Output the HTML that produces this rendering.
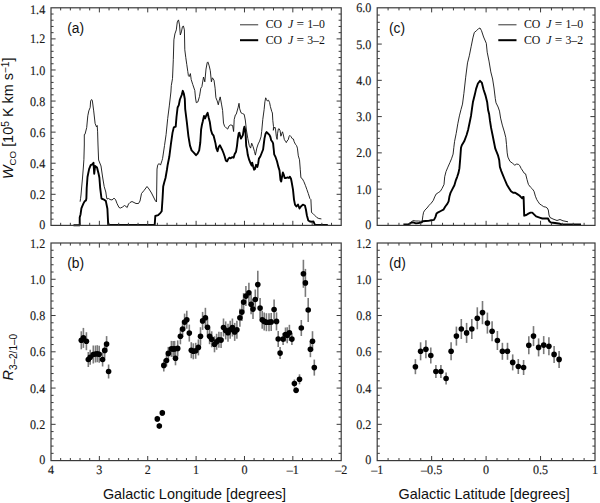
<!DOCTYPE html>
<html><head><meta charset="utf-8"><style>
html,body{margin:0;padding:0;background:#fff;}
body{width:600px;height:503px;overflow:hidden;}
svg{display:block;}
.tl{font-family:"Liberation Serif",serif;font-size:12.1px;fill:#1a1a1a;stroke:#1a1a1a;stroke-width:0.15px;text-rendering:geometricPrecision;}
.lg{font-family:"Liberation Serif",serif;font-size:11.8px;fill:#111;}
.pl{font-family:"Liberation Sans",sans-serif;font-size:13.8px;fill:#111;}
.at{font-family:"Liberation Sans",sans-serif;font-size:14.4px;fill:#111;}
</style></head><body>
<svg width="600" height="503" viewBox="0 0 600 503">
<rect width="600" height="503" fill="#fff"/>
<polyline points="80.1,201.7 80.6,198.3 81,195 81.6,188 82.5,178 83.3,168 83.9,159.6 84.3,145 84.3,134.6 85,134.3 86.7,127.6 87.8,115.8 88.8,110.9 90.2,107.4 90.6,101.1 91.6,99.5 92.3,100.4 93.7,110.9 95.1,123.4 96.5,126.9 97.2,125.5 97.6,131.8 98,145 98.6,160 101,166 102.6,177 104.2,186.6 105.8,192 106.5,197 107,199 108.5,198.5 110,199.5 112,200 114,198.2 115.5,199.5 117,203.5 119,207.5 120.5,208 122.5,207 124.5,205.5 126,206.5 127.2,207.5 128.5,204 130,202.5 132,201.5 134,202.5 136,203.5 138.5,203.5 140,201 141.5,193.5 144,190.5 147,186.5 149,189 151.5,193 153,196 155.5,201 156.5,202 157,169.1 157.7,165.1 159,163.5 160.5,165.1 162.1,160.3 162.6,158.4 164.5,145.6 166.1,134.5 167.7,118.6 169.3,105.9 170.9,92 171.3,85.5 172.5,78.6 173.3,59.7 173.9,39.8 174.9,33.9 176.3,29.9 177.3,21.9 178.5,19.9 179.5,24.9 180.3,35 181.4,31.9 182.4,26.9 183.4,25.9 184.4,29.9 184.8,49.8 185.8,57.7 186.8,64.7 187.8,71.6 188.4,75.6 189.2,76.6 190.4,73.6 191.2,79.6 192.8,84.6 194.8,90.5 195.5,98 196.3,102.7 197.9,101.9 199.5,96.4 200.8,88.2 201.9,86.6 203.5,77 204.8,81.8 206,69.1 207.2,62.7 207.9,61.9 209.2,65.9 210.3,70.7 211.4,81.8 212.4,77.8 214,80.2 215.1,88.2 215.9,97.7 217.2,100.9 218.3,104.8 219.1,100.9 220.2,96.9 221.5,104.1 222.6,110.4 223.5,123.1 224.6,126.3 226.2,127.9 227.7,129.1 228.9,126.1 230.7,124.9 232.6,125.5 233.6,131.5 234.2,119.5 235.4,114.8 236.2,114.4 238.2,107.2 239,103.3 239.7,108.8 241,112.8 242.6,113.6 244.2,114.4 245.3,120 246.4,130 247.8,138.4 249.2,145.3 250.6,148.1 251.7,143.2 253.1,146.7 254.5,151.6 255.4,155.1 256.8,148.1 258.2,143.9 259.6,141.1 261,136.8 261.7,131.4 262.8,119.3 264.1,109.7 264.9,101.8 265.7,97.8 266.5,99.4 267.3,101 268.5,100.2 269.6,102.6 270.4,106.6 271.7,111.3 272.4,113 272.8,120.3 273.5,126.7 273.3,130.3 273.9,128.3 274.9,127.1 275.5,129.1 276.3,136.2 277.1,139.4 277.5,133.8 278.3,129.1 279.1,128.7 280.1,130.7 280.9,136.2 281.7,133.8 282.5,131.8 283.1,133.8 284.3,139.4 285.5,141.4 286.3,142.6 287,141 288.2,139.8 289.2,136.2 289.8,135.4 291,136.6 292.2,138.6 293.4,139 294.2,141.8 295.4,144.2 296.6,145.7 297.4,148.1 298.3,155.8 299.5,159.8 300.3,169.8 300.9,177.7 302.3,178.7 303.9,181.7 305.5,185.7 306.9,189.6 308.3,193.6 309.9,198.6 310.9,199.6 311.5,212.5 312.9,213.5 314.9,215.5 316.8,217.5 318.8,218.5 321.4,218.9" fill="none" stroke="#111" stroke-width="0.9" stroke-linejoin="round" stroke-linecap="butt"/>
<polyline points="73.5,225.2 79.7,225.2 79.7,217.5 80.6,214.2 81.4,208.4 82.2,206.3 83.5,203.4 84.7,201.3 86,200.4 86.4,198.3 86.7,188.2 87.5,177 89.1,169.1 90.7,165.1 92.3,164.3 93.5,162.7 94.2,173.8 95.1,165.9 97,167.5 98.6,173.8 99.4,177.8 100.2,188.2 101.5,198.5 103.4,199.3 105.8,200.9 107.4,208.8 108.2,224.9 154.7,224.9 155.3,216 158.2,215.2 160.5,212.8 161.7,211.2 162.6,197.7 163.2,186.6 164.2,182.6 165.5,178 166.9,170 167.7,164.7 169.3,156.8 170.9,144.1 172.5,132.9 173.8,127.4 175.7,126.6 176.5,117 177.6,107.5 178.8,105.1 179.9,99.5 181.7,95 182.8,90.8 183.8,93.5 184.8,99 185.2,109.1 186.8,121.8 188.4,136.1 190,145.6 191.6,150.4 194,152.8 196,155.2 197.6,153.6 199.2,150.4 200.3,142.5 201.1,129.7 201.9,125 202.7,121.8 204,116 205.1,118.4 206.4,115.2 207.6,112.8 208.6,117.2 209.8,121.9 211,130.3 212.2,133.9 213.6,135.7 214.5,139.2 215.5,143.4 216.3,148.2 217.5,151.2 218.7,147 219.9,145.2 221.1,147.6 222.3,150 223.5,153 224.7,156.5 225.9,160.7 227.1,161.3 228.3,158.9 229.5,157.7 230.7,158.3 232.4,157.1 233.6,157.7 234.6,154.2 236,151.8 237,145.8 237.8,138.6 238.7,133.3 239.4,132.7 240.2,136.3 241,138.6 242,136.8 242.9,135.1 243.8,129.1 244.4,126.7 245,129.1 245.6,133.9 246.2,145.8 247,149.4 247.8,155.1 249.2,159.9 250.6,163.4 251.7,165.5 252.2,162.7 253.1,166.2 254.1,169.7 255,169 256.1,164.8 257.3,166.9 258.2,163.4 258.9,158.6 260.3,156.5 261.7,153 263.1,149.5 263.8,143.9 264.5,138.4 265.6,133.5 266.6,132.1 268,133.5 269.4,134.9 270.4,137 271.2,140.2 272.4,141.8 273.1,143.4 273.5,147.3 273.8,150 274.2,154.4 275.6,157.2 277,161.3 278.4,166.9 279.5,170.4 280.5,180.1 281.2,181.5 281.9,177.4 282.9,172.5 283.7,174.6 284.7,178 286.1,178 287.5,177.4 288.9,178 289.9,176.7 291,178.7 291.6,181.7 293,189.6 294,199.6 295,204.6 296.4,206.5 298,204.6 299.5,208.5 300.9,206.5 302.9,204.6 304.9,205.5 305.9,209.5 306.9,215.5 308.3,220.5 309.9,221.5 311.9,221.8 313.5,221.5 314.3,223.4 314.9,224.9 327.8,224.9" fill="none" stroke="#000" stroke-width="1.9" stroke-linejoin="round" stroke-linecap="butt"/>
<polyline points="410.3,222.7 413.1,220.6 415.9,221 418.7,221 420.8,221.3 422.2,221 422.9,215.7 423.6,212.2 424.9,210.1 427,208 429.1,205.3 431.2,203.2 433.3,200.4 434.7,196.9 436.1,194.1 438.2,192.7 440.3,191.3 442.1,188.4 444,184.5 444.7,176.8 446,171.6 447.9,167.1 449.9,162.6 451.5,158.8 453.1,154.1 453.8,147.7 454.6,141.3 456.2,133.4 457.8,123.8 459.4,115.9 461,109.5 462.5,104.1 463.9,93.3 465.7,77.2 467.5,62.9 469.3,55.8 471.1,46.8 472.9,37.9 474.3,32.5 476.5,30.7 478.6,28.6 480,28 481.5,30.7 483.6,37 486.3,43.3 487.2,52.2 489,61.1 490.8,71.9 492.6,79 494,88 495.3,98.7 496,102.8 498.1,107 499.5,111.1 500.6,118.1 502.3,125.1 504.4,132 505.8,137.6 506.5,144.6 507.2,152.9 507.9,157.1 509.9,161.3 512.7,163.4 514.8,165.2 516.5,164.1 518.3,164.3 519.7,165.5 521.1,168.4 522.9,171.1 524.2,173.2 525.6,173.9 527,179.5 528.4,184.4 530.5,187.2 532.6,189.2 534,191.3 535.4,196.2 536.8,199.7 538.2,201.8 539.6,203.9 541.7,205.3 543.7,206.7 545.8,207.1 547.2,208 548.3,210 549,215 550,217.5 553,219 557,220.5 560,219.5 563,220.8 568,221.8" fill="none" stroke="#111" stroke-width="0.9" stroke-linejoin="round" stroke-linecap="butt"/>
<polyline points="403.4,224.5 408.9,224.1 411,222.7 413.1,222.4 415.9,223.4 418.7,223 421.5,222.4 422.9,221.3 425.6,221 428.4,220.9 431.2,220.3 434,219.9 435.4,217.1 436.5,213.6 438.2,212.3 440.8,211 443.4,209.7 445.3,206.5 447.3,203.9 448.6,201.3 449.5,196.2 450.5,192.9 452.4,189.1 454.4,185.2 455.7,180.7 457.2,176.8 458.5,172.9 459.4,168.4 460.2,158.8 461,147.7 461.8,145.3 464.2,141.3 466.6,135 468.2,129.4 469.7,122.3 471,115.9 472.1,107.9 472.9,102.3 474.7,95.1 476.1,88.9 477.9,83.5 480,80.8 481.8,82.6 483.6,89.8 485.4,95.1 487.2,102.3 488.1,110 489.1,113.9 490,120.9 491.1,127.9 492.5,134.8 493.9,141.8 495.3,148.7 496.7,152.2 498.1,155.7 499.2,160 499.9,167 501.3,171.1 502.7,174.6 504.7,179.5 506.8,184.4 508.9,187.9 511,191.3 513.1,192.7 515.2,192.7 517.3,194.1 519.4,195.5 521.5,197.6 522.2,198.3 522.9,196.9 523.6,196.9 524.2,215.7 526.3,215 528.4,213.6 530.5,212.6 532.3,212.6 534,214.3 536.1,216.4 538.2,217.1 540.3,217.8 542.4,218.5 548,218.5 549.5,221.5 551,222.5 555,223 560,223.8 562,224.5 581,224.5" fill="none" stroke="#000" stroke-width="1.9" stroke-linejoin="round" stroke-linecap="butt"/>
<path d="M81.3 331.3V349.3" stroke="#7a7a7a" stroke-width="1.6"/>
<path d="M83.4 327.9V347.9" stroke="#7a7a7a" stroke-width="1.6"/>
<path d="M86.4 332.2V350.2" stroke="#7a7a7a" stroke-width="1.6"/>
<path d="M88.3 352V367" stroke="#7a7a7a" stroke-width="1.6"/>
<path d="M90.2 349.8V364.8" stroke="#7a7a7a" stroke-width="1.6"/>
<path d="M93.3 345.5V363.5" stroke="#7a7a7a" stroke-width="1.6"/>
<path d="M95.5 345.5V362.5" stroke="#7a7a7a" stroke-width="1.6"/>
<path d="M97.3 345.2V362.2" stroke="#7a7a7a" stroke-width="1.6"/>
<path d="M99.2 345.8V362.8" stroke="#7a7a7a" stroke-width="1.6"/>
<path d="M102.6 352.5V366.5" stroke="#7a7a7a" stroke-width="1.6"/>
<path d="M104.7 342.9V357.9" stroke="#7a7a7a" stroke-width="1.6"/>
<path d="M106.6 336.1V352.1" stroke="#7a7a7a" stroke-width="1.6"/>
<path d="M108.6 364.5V378.5" stroke="#7a7a7a" stroke-width="1.6"/>
<path d="M157.3 415.9V421.9" stroke="#7a7a7a" stroke-width="1.6"/>
<path d="M159.3 423V429" stroke="#7a7a7a" stroke-width="1.6"/>
<path d="M162.3 409.9V415.9" stroke="#7a7a7a" stroke-width="1.6"/>
<path d="M163.8 359.4V371.4" stroke="#7a7a7a" stroke-width="1.6"/>
<path d="M166.5 354.5V366.5" stroke="#7a7a7a" stroke-width="1.6"/>
<path d="M168.3 346.9V359.9" stroke="#7a7a7a" stroke-width="1.6"/>
<path d="M171.4 340.9V356.9" stroke="#7a7a7a" stroke-width="1.6"/>
<path d="M173.2 341V357" stroke="#7a7a7a" stroke-width="1.6"/>
<path d="M174.6 340.9V356.9" stroke="#7a7a7a" stroke-width="1.6"/>
<path d="M175.5 351.3V365.3" stroke="#7a7a7a" stroke-width="1.6"/>
<path d="M177.7 340.4V356.4" stroke="#7a7a7a" stroke-width="1.6"/>
<path d="M180.4 328.3V344.3" stroke="#7a7a7a" stroke-width="1.6"/>
<path d="M182.6 321.1V337.1" stroke="#7a7a7a" stroke-width="1.6"/>
<path d="M184.6 313.6V330.6" stroke="#7a7a7a" stroke-width="1.6"/>
<path d="M186.8 310.7V328.7" stroke="#7a7a7a" stroke-width="1.6"/>
<path d="M189.3 324.6V341.6" stroke="#7a7a7a" stroke-width="1.6"/>
<path d="M191.3 342.2V358.2" stroke="#7a7a7a" stroke-width="1.6"/>
<path d="M193.3 343.3V359.3" stroke="#7a7a7a" stroke-width="1.6"/>
<path d="M195.7 342.8V358.8" stroke="#7a7a7a" stroke-width="1.6"/>
<path d="M198.4 339.4V355.4" stroke="#7a7a7a" stroke-width="1.6"/>
<path d="M200.5 327.2V345.2" stroke="#7a7a7a" stroke-width="1.6"/>
<path d="M202.6 311.9V329.9" stroke="#7a7a7a" stroke-width="1.6"/>
<path d="M205.4 307.8V327.8" stroke="#7a7a7a" stroke-width="1.6"/>
<path d="M207.5 318.2V336.2" stroke="#7a7a7a" stroke-width="1.6"/>
<path d="M209.6 328.2V344.2" stroke="#7a7a7a" stroke-width="1.6"/>
<path d="M211.7 331.3V347.3" stroke="#7a7a7a" stroke-width="1.6"/>
<path d="M214.5 336.3V352.3" stroke="#7a7a7a" stroke-width="1.6"/>
<path d="M216.6 333.8V349.8" stroke="#7a7a7a" stroke-width="1.6"/>
<path d="M218.9 331.7V347.7" stroke="#7a7a7a" stroke-width="1.6"/>
<path d="M221.1 332.1V348.1" stroke="#7a7a7a" stroke-width="1.6"/>
<path d="M223.5 318.5V336.5" stroke="#7a7a7a" stroke-width="1.6"/>
<path d="M225.7 321.4V339.4" stroke="#7a7a7a" stroke-width="1.6"/>
<path d="M228 323.7V341.7" stroke="#7a7a7a" stroke-width="1.6"/>
<path d="M230.2 320.7V338.7" stroke="#7a7a7a" stroke-width="1.6"/>
<path d="M232.4 318.5V336.5" stroke="#7a7a7a" stroke-width="1.6"/>
<path d="M234.7 322.9V340.9" stroke="#7a7a7a" stroke-width="1.6"/>
<path d="M236.9 320.7V338.7" stroke="#7a7a7a" stroke-width="1.6"/>
<path d="M239.9 308.8V326.8" stroke="#7a7a7a" stroke-width="1.6"/>
<path d="M241.9 303.1V321.1" stroke="#7a7a7a" stroke-width="1.6"/>
<path d="M243.6 293.1V311.1" stroke="#7a7a7a" stroke-width="1.6"/>
<path d="M245.9 286.1V306.1" stroke="#7a7a7a" stroke-width="1.6"/>
<path d="M248.9 282.7V302.7" stroke="#7a7a7a" stroke-width="1.6"/>
<path d="M251.1 294.3V314.3" stroke="#7a7a7a" stroke-width="1.6"/>
<path d="M253 299.1V319.1" stroke="#7a7a7a" stroke-width="1.6"/>
<path d="M255.3 289.5V309.5" stroke="#7a7a7a" stroke-width="1.6"/>
<path d="M257.8 270.8V298.4" stroke="#7a7a7a" stroke-width="1.6"/>
<path d="M260.1 298.1V318.1" stroke="#7a7a7a" stroke-width="1.6"/>
<path d="M262.2 310.8V328.8" stroke="#7a7a7a" stroke-width="1.6"/>
<path d="M264.2 312.4V330.4" stroke="#7a7a7a" stroke-width="1.6"/>
<path d="M266.4 313.2V331.2" stroke="#7a7a7a" stroke-width="1.6"/>
<path d="M269 313.2V331.2" stroke="#7a7a7a" stroke-width="1.6"/>
<path d="M271.2 312.9V330.9" stroke="#7a7a7a" stroke-width="1.6"/>
<path d="M274.1 299.5V319.5" stroke="#7a7a7a" stroke-width="1.6"/>
<path d="M276.5 312.4V330.4" stroke="#7a7a7a" stroke-width="1.6"/>
<path d="M278.2 331V347" stroke="#7a7a7a" stroke-width="1.6"/>
<path d="M280.1 347.1V359.1" stroke="#7a7a7a" stroke-width="1.6"/>
<path d="M283.1 333.1V345.1" stroke="#7a7a7a" stroke-width="1.6"/>
<path d="M285.5 327.5V341.5" stroke="#7a7a7a" stroke-width="1.6"/>
<path d="M287.2 327.3V343.3" stroke="#7a7a7a" stroke-width="1.6"/>
<path d="M289.4 324.8V340.8" stroke="#7a7a7a" stroke-width="1.6"/>
<path d="M291.9 333.1V345.1" stroke="#7a7a7a" stroke-width="1.6"/>
<path d="M294.4 379.5V387.5" stroke="#7a7a7a" stroke-width="1.6"/>
<path d="M296.1 387.2V393.2" stroke="#7a7a7a" stroke-width="1.6"/>
<path d="M299.5 374.3V384.3" stroke="#7a7a7a" stroke-width="1.6"/>
<path d="M301.3 320V336" stroke="#7a7a7a" stroke-width="1.6"/>
<path d="M303.4 259.8V287.8" stroke="#7a7a7a" stroke-width="1.6"/>
<path d="M305.4 268.9V296.9" stroke="#7a7a7a" stroke-width="1.6"/>
<path d="M308.2 298V322" stroke="#7a7a7a" stroke-width="1.6"/>
<path d="M310.4 341.2V357.2" stroke="#7a7a7a" stroke-width="1.6"/>
<path d="M312.5 331.2V351.2" stroke="#7a7a7a" stroke-width="1.6"/>
<path d="M314.3 359.6V375.6" stroke="#7a7a7a" stroke-width="1.6"/>
<circle cx="81.3" cy="340.3" r="2.8" fill="#000"/>
<circle cx="83.4" cy="337.9" r="2.8" fill="#000"/>
<circle cx="86.4" cy="341.2" r="2.8" fill="#000"/>
<circle cx="88.3" cy="359.5" r="2.8" fill="#000"/>
<circle cx="90.2" cy="357.3" r="2.8" fill="#000"/>
<circle cx="93.3" cy="354.5" r="2.8" fill="#000"/>
<circle cx="95.5" cy="354" r="2.8" fill="#000"/>
<circle cx="97.3" cy="353.7" r="2.8" fill="#000"/>
<circle cx="99.2" cy="354.3" r="2.8" fill="#000"/>
<circle cx="102.6" cy="359.5" r="2.8" fill="#000"/>
<circle cx="104.7" cy="350.4" r="2.8" fill="#000"/>
<circle cx="106.6" cy="344.1" r="2.8" fill="#000"/>
<circle cx="108.6" cy="371.5" r="2.8" fill="#000"/>
<circle cx="157.3" cy="418.9" r="2.8" fill="#000"/>
<circle cx="159.3" cy="426" r="2.8" fill="#000"/>
<circle cx="162.3" cy="412.9" r="2.8" fill="#000"/>
<circle cx="163.8" cy="365.4" r="2.8" fill="#000"/>
<circle cx="166.5" cy="360.5" r="2.8" fill="#000"/>
<circle cx="168.3" cy="353.4" r="2.8" fill="#000"/>
<circle cx="171.4" cy="348.9" r="2.8" fill="#000"/>
<circle cx="173.2" cy="349" r="2.8" fill="#000"/>
<circle cx="174.6" cy="348.9" r="2.8" fill="#000"/>
<circle cx="175.5" cy="358.3" r="2.8" fill="#000"/>
<circle cx="177.7" cy="348.4" r="2.8" fill="#000"/>
<circle cx="180.4" cy="336.3" r="2.8" fill="#000"/>
<circle cx="182.6" cy="329.1" r="2.8" fill="#000"/>
<circle cx="184.6" cy="322.1" r="2.8" fill="#000"/>
<circle cx="186.8" cy="319.7" r="2.8" fill="#000"/>
<circle cx="189.3" cy="333.1" r="2.8" fill="#000"/>
<circle cx="191.3" cy="350.2" r="2.8" fill="#000"/>
<circle cx="193.3" cy="351.3" r="2.8" fill="#000"/>
<circle cx="195.7" cy="350.8" r="2.8" fill="#000"/>
<circle cx="198.4" cy="347.4" r="2.8" fill="#000"/>
<circle cx="200.5" cy="336.2" r="2.8" fill="#000"/>
<circle cx="202.6" cy="320.9" r="2.8" fill="#000"/>
<circle cx="205.4" cy="317.8" r="2.8" fill="#000"/>
<circle cx="207.5" cy="327.2" r="2.8" fill="#000"/>
<circle cx="209.6" cy="336.2" r="2.8" fill="#000"/>
<circle cx="211.7" cy="339.3" r="2.8" fill="#000"/>
<circle cx="214.5" cy="344.3" r="2.8" fill="#000"/>
<circle cx="216.6" cy="341.8" r="2.8" fill="#000"/>
<circle cx="218.9" cy="339.7" r="2.8" fill="#000"/>
<circle cx="221.1" cy="340.1" r="2.8" fill="#000"/>
<circle cx="223.5" cy="327.5" r="2.8" fill="#000"/>
<circle cx="225.7" cy="330.4" r="2.8" fill="#000"/>
<circle cx="228" cy="332.7" r="2.8" fill="#000"/>
<circle cx="230.2" cy="329.7" r="2.8" fill="#000"/>
<circle cx="232.4" cy="327.5" r="2.8" fill="#000"/>
<circle cx="234.7" cy="331.9" r="2.8" fill="#000"/>
<circle cx="236.9" cy="329.7" r="2.8" fill="#000"/>
<circle cx="239.9" cy="317.8" r="2.8" fill="#000"/>
<circle cx="241.9" cy="312.1" r="2.8" fill="#000"/>
<circle cx="243.6" cy="302.1" r="2.8" fill="#000"/>
<circle cx="245.9" cy="296.1" r="2.8" fill="#000"/>
<circle cx="248.9" cy="292.7" r="2.8" fill="#000"/>
<circle cx="251.1" cy="304.3" r="2.8" fill="#000"/>
<circle cx="253" cy="309.1" r="2.8" fill="#000"/>
<circle cx="255.3" cy="299.5" r="2.8" fill="#000"/>
<circle cx="257.8" cy="284.6" r="2.8" fill="#000"/>
<circle cx="260.1" cy="308.1" r="2.8" fill="#000"/>
<circle cx="262.2" cy="319.8" r="2.8" fill="#000"/>
<circle cx="264.2" cy="321.4" r="2.8" fill="#000"/>
<circle cx="266.4" cy="322.2" r="2.8" fill="#000"/>
<circle cx="269" cy="322.2" r="2.8" fill="#000"/>
<circle cx="271.2" cy="321.9" r="2.8" fill="#000"/>
<circle cx="274.1" cy="309.5" r="2.8" fill="#000"/>
<circle cx="276.5" cy="321.4" r="2.8" fill="#000"/>
<circle cx="278.2" cy="339" r="2.8" fill="#000"/>
<circle cx="280.1" cy="353.1" r="2.8" fill="#000"/>
<circle cx="283.1" cy="339.1" r="2.8" fill="#000"/>
<circle cx="285.5" cy="334.5" r="2.8" fill="#000"/>
<circle cx="287.2" cy="335.3" r="2.8" fill="#000"/>
<circle cx="289.4" cy="332.8" r="2.8" fill="#000"/>
<circle cx="291.9" cy="339.1" r="2.8" fill="#000"/>
<circle cx="294.4" cy="383.5" r="2.8" fill="#000"/>
<circle cx="296.1" cy="390.2" r="2.8" fill="#000"/>
<circle cx="299.5" cy="379.3" r="2.8" fill="#000"/>
<circle cx="301.3" cy="328" r="2.8" fill="#000"/>
<circle cx="303.4" cy="273.8" r="2.8" fill="#000"/>
<circle cx="305.4" cy="282.9" r="2.8" fill="#000"/>
<circle cx="308.2" cy="310" r="2.8" fill="#000"/>
<circle cx="310.4" cy="349.2" r="2.8" fill="#000"/>
<circle cx="312.5" cy="341.2" r="2.8" fill="#000"/>
<circle cx="314.3" cy="367.6" r="2.8" fill="#000"/>
<path d="M415.4 359.2V374.2" stroke="#7a7a7a" stroke-width="1.6"/>
<path d="M420.6 342.3V360.3" stroke="#7a7a7a" stroke-width="1.6"/>
<path d="M425.9 340.2V358.2" stroke="#7a7a7a" stroke-width="1.6"/>
<path d="M430.8 347.5V363.5" stroke="#7a7a7a" stroke-width="1.6"/>
<path d="M435.9 365V378" stroke="#7a7a7a" stroke-width="1.6"/>
<path d="M440.9 365V378" stroke="#7a7a7a" stroke-width="1.6"/>
<path d="M446.1 372.5V384.5" stroke="#7a7a7a" stroke-width="1.6"/>
<path d="M451.1 342.3V360.3" stroke="#7a7a7a" stroke-width="1.6"/>
<path d="M456.4 326.6V345.6" stroke="#7a7a7a" stroke-width="1.6"/>
<path d="M461.3 319V339" stroke="#7a7a7a" stroke-width="1.6"/>
<path d="M466.6 322.9V342.9" stroke="#7a7a7a" stroke-width="1.6"/>
<path d="M471.8 319V339" stroke="#7a7a7a" stroke-width="1.6"/>
<path d="M477.3 307.3V329.3" stroke="#7a7a7a" stroke-width="1.6"/>
<path d="M482.5 301V324.2" stroke="#7a7a7a" stroke-width="1.6"/>
<path d="M487.4 312.6V333.6" stroke="#7a7a7a" stroke-width="1.6"/>
<path d="M492.1 321.3V341.3" stroke="#7a7a7a" stroke-width="1.6"/>
<path d="M497.4 331V350" stroke="#7a7a7a" stroke-width="1.6"/>
<path d="M502.4 342.8V359.8" stroke="#7a7a7a" stroke-width="1.6"/>
<path d="M507.5 342.8V359.8" stroke="#7a7a7a" stroke-width="1.6"/>
<path d="M512.7 354.4V370.4" stroke="#7a7a7a" stroke-width="1.6"/>
<path d="M518.3 359V374" stroke="#7a7a7a" stroke-width="1.6"/>
<path d="M523.6 360V375" stroke="#7a7a7a" stroke-width="1.6"/>
<path d="M528.8 336.3V354.3" stroke="#7a7a7a" stroke-width="1.6"/>
<path d="M533.5 326.1V346.1" stroke="#7a7a7a" stroke-width="1.6"/>
<path d="M538.6 338.4V356.4" stroke="#7a7a7a" stroke-width="1.6"/>
<path d="M543.7 336.1V354.1" stroke="#7a7a7a" stroke-width="1.6"/>
<path d="M548.9 337.3V355.3" stroke="#7a7a7a" stroke-width="1.6"/>
<path d="M554.1 345.9V362.9" stroke="#7a7a7a" stroke-width="1.6"/>
<path d="M559.1 350.9V367.9" stroke="#7a7a7a" stroke-width="1.6"/>
<circle cx="415.4" cy="366.7" r="2.8" fill="#000"/>
<circle cx="420.6" cy="351.3" r="2.8" fill="#000"/>
<circle cx="425.9" cy="349.2" r="2.8" fill="#000"/>
<circle cx="430.8" cy="355.5" r="2.8" fill="#000"/>
<circle cx="435.9" cy="371.5" r="2.8" fill="#000"/>
<circle cx="440.9" cy="371.5" r="2.8" fill="#000"/>
<circle cx="446.1" cy="378.5" r="2.8" fill="#000"/>
<circle cx="451.1" cy="351.3" r="2.8" fill="#000"/>
<circle cx="456.4" cy="336.1" r="2.8" fill="#000"/>
<circle cx="461.3" cy="329" r="2.8" fill="#000"/>
<circle cx="466.6" cy="332.9" r="2.8" fill="#000"/>
<circle cx="471.8" cy="329" r="2.8" fill="#000"/>
<circle cx="477.3" cy="318.3" r="2.8" fill="#000"/>
<circle cx="482.5" cy="312.6" r="2.8" fill="#000"/>
<circle cx="487.4" cy="323.1" r="2.8" fill="#000"/>
<circle cx="492.1" cy="331.3" r="2.8" fill="#000"/>
<circle cx="497.4" cy="340.5" r="2.8" fill="#000"/>
<circle cx="502.4" cy="351.3" r="2.8" fill="#000"/>
<circle cx="507.5" cy="351.3" r="2.8" fill="#000"/>
<circle cx="512.7" cy="362.4" r="2.8" fill="#000"/>
<circle cx="518.3" cy="366.5" r="2.8" fill="#000"/>
<circle cx="523.6" cy="367.5" r="2.8" fill="#000"/>
<circle cx="528.8" cy="345.3" r="2.8" fill="#000"/>
<circle cx="533.5" cy="336.1" r="2.8" fill="#000"/>
<circle cx="538.6" cy="347.4" r="2.8" fill="#000"/>
<circle cx="543.7" cy="345.1" r="2.8" fill="#000"/>
<circle cx="548.9" cy="346.3" r="2.8" fill="#000"/>
<circle cx="554.1" cy="354.4" r="2.8" fill="#000"/>
<circle cx="559.1" cy="359.4" r="2.8" fill="#000"/>
<rect x="51" y="7.8" width="290.2" height="217.6" fill="none" stroke="#3a3a3a" stroke-width="1.2"/>
<rect x="51" y="243" width="290.2" height="217.6" fill="none" stroke="#3a3a3a" stroke-width="1.2"/>
<rect x="377.2" y="7.8" width="217.8" height="217.6" fill="none" stroke="#3a3a3a" stroke-width="1.2"/>
<rect x="377.2" y="243" width="217.8" height="217.6" fill="none" stroke="#3a3a3a" stroke-width="1.2"/>
<path d="M60.67 225.4v-2.6M60.67 7.8v2.6M70.35 225.4v-2.6M70.35 7.8v2.6M80.02 225.4v-2.6M80.02 7.8v2.6M89.69 225.4v-2.6M89.69 7.8v2.6M99.37 225.4v-4.6M99.37 7.8v4.6M109.04 225.4v-2.6M109.04 7.8v2.6M118.71 225.4v-2.6M118.71 7.8v2.6M128.39 225.4v-2.6M128.39 7.8v2.6M138.06 225.4v-2.6M138.06 7.8v2.6M147.73 225.4v-4.6M147.73 7.8v4.6M157.41 225.4v-2.6M157.41 7.8v2.6M167.08 225.4v-2.6M167.08 7.8v2.6M176.75 225.4v-2.6M176.75 7.8v2.6M186.43 225.4v-2.6M186.43 7.8v2.6M196.1 225.4v-4.6M196.1 7.8v4.6M205.77 225.4v-2.6M205.77 7.8v2.6M215.45 225.4v-2.6M215.45 7.8v2.6M225.12 225.4v-2.6M225.12 7.8v2.6M234.79 225.4v-2.6M234.79 7.8v2.6M244.47 225.4v-4.6M244.47 7.8v4.6M254.14 225.4v-2.6M254.14 7.8v2.6M263.81 225.4v-2.6M263.81 7.8v2.6M273.49 225.4v-2.6M273.49 7.8v2.6M283.16 225.4v-2.6M283.16 7.8v2.6M292.83 225.4v-4.6M292.83 7.8v4.6M302.51 225.4v-2.6M302.51 7.8v2.6M312.18 225.4v-2.6M312.18 7.8v2.6M321.85 225.4v-2.6M321.85 7.8v2.6M331.53 225.4v-2.6M331.53 7.8v2.6" stroke="#3a3a3a" stroke-width="1.0" fill="none"/>
<path d="M60.67 460.6v-2.6M60.67 243v2.6M70.35 460.6v-2.6M70.35 243v2.6M80.02 460.6v-2.6M80.02 243v2.6M89.69 460.6v-2.6M89.69 243v2.6M99.37 460.6v-4.6M99.37 243v4.6M109.04 460.6v-2.6M109.04 243v2.6M118.71 460.6v-2.6M118.71 243v2.6M128.39 460.6v-2.6M128.39 243v2.6M138.06 460.6v-2.6M138.06 243v2.6M147.73 460.6v-4.6M147.73 243v4.6M157.41 460.6v-2.6M157.41 243v2.6M167.08 460.6v-2.6M167.08 243v2.6M176.75 460.6v-2.6M176.75 243v2.6M186.43 460.6v-2.6M186.43 243v2.6M196.1 460.6v-4.6M196.1 243v4.6M205.77 460.6v-2.6M205.77 243v2.6M215.45 460.6v-2.6M215.45 243v2.6M225.12 460.6v-2.6M225.12 243v2.6M234.79 460.6v-2.6M234.79 243v2.6M244.47 460.6v-4.6M244.47 243v4.6M254.14 460.6v-2.6M254.14 243v2.6M263.81 460.6v-2.6M263.81 243v2.6M273.49 460.6v-2.6M273.49 243v2.6M283.16 460.6v-2.6M283.16 243v2.6M292.83 460.6v-4.6M292.83 243v4.6M302.51 460.6v-2.6M302.51 243v2.6M312.18 460.6v-2.6M312.18 243v2.6M321.85 460.6v-2.6M321.85 243v2.6M331.53 460.6v-2.6M331.53 243v2.6" stroke="#3a3a3a" stroke-width="1.0" fill="none"/>
<path d="M388.09 225.4v-2.6M388.09 7.8v2.6M398.98 225.4v-2.6M398.98 7.8v2.6M409.87 225.4v-2.6M409.87 7.8v2.6M420.76 225.4v-2.6M420.76 7.8v2.6M431.65 225.4v-4.6M431.65 7.8v4.6M442.54 225.4v-2.6M442.54 7.8v2.6M453.43 225.4v-2.6M453.43 7.8v2.6M464.32 225.4v-2.6M464.32 7.8v2.6M475.21 225.4v-2.6M475.21 7.8v2.6M486.1 225.4v-4.6M486.1 7.8v4.6M496.99 225.4v-2.6M496.99 7.8v2.6M507.88 225.4v-2.6M507.88 7.8v2.6M518.77 225.4v-2.6M518.77 7.8v2.6M529.66 225.4v-2.6M529.66 7.8v2.6M540.55 225.4v-4.6M540.55 7.8v4.6M551.44 225.4v-2.6M551.44 7.8v2.6M562.33 225.4v-2.6M562.33 7.8v2.6M573.22 225.4v-2.6M573.22 7.8v2.6M584.11 225.4v-2.6M584.11 7.8v2.6" stroke="#3a3a3a" stroke-width="1.0" fill="none"/>
<path d="M388.09 460.6v-2.6M388.09 243v2.6M398.98 460.6v-2.6M398.98 243v2.6M409.87 460.6v-2.6M409.87 243v2.6M420.76 460.6v-2.6M420.76 243v2.6M431.65 460.6v-4.6M431.65 243v4.6M442.54 460.6v-2.6M442.54 243v2.6M453.43 460.6v-2.6M453.43 243v2.6M464.32 460.6v-2.6M464.32 243v2.6M475.21 460.6v-2.6M475.21 243v2.6M486.1 460.6v-4.6M486.1 243v4.6M496.99 460.6v-2.6M496.99 243v2.6M507.88 460.6v-2.6M507.88 243v2.6M518.77 460.6v-2.6M518.77 243v2.6M529.66 460.6v-2.6M529.66 243v2.6M540.55 460.6v-4.6M540.55 243v4.6M551.44 460.6v-2.6M551.44 243v2.6M562.33 460.6v-2.6M562.33 243v2.6M573.22 460.6v-2.6M573.22 243v2.6M584.11 460.6v-2.6M584.11 243v2.6" stroke="#3a3a3a" stroke-width="1.0" fill="none"/>
<path d="M51 219.18h2.6M341.2 219.18h-2.6M51 212.97h2.6M341.2 212.97h-2.6M51 206.75h2.6M341.2 206.75h-2.6M51 200.53h2.6M341.2 200.53h-2.6M51 194.31h4.6M341.2 194.31h-4.6M51 188.1h2.6M341.2 188.1h-2.6M51 181.88h2.6M341.2 181.88h-2.6M51 175.66h2.6M341.2 175.66h-2.6M51 169.45h2.6M341.2 169.45h-2.6M51 163.23h4.6M341.2 163.23h-4.6M51 157.01h2.6M341.2 157.01h-2.6M51 150.79h2.6M341.2 150.79h-2.6M51 144.58h2.6M341.2 144.58h-2.6M51 138.36h2.6M341.2 138.36h-2.6M51 132.14h4.6M341.2 132.14h-4.6M51 125.93h2.6M341.2 125.93h-2.6M51 119.71h2.6M341.2 119.71h-2.6M51 113.49h2.6M341.2 113.49h-2.6M51 107.27h2.6M341.2 107.27h-2.6M51 101.06h4.6M341.2 101.06h-4.6M51 94.84h2.6M341.2 94.84h-2.6M51 88.62h2.6M341.2 88.62h-2.6M51 82.41h2.6M341.2 82.41h-2.6M51 76.19h2.6M341.2 76.19h-2.6M51 69.97h4.6M341.2 69.97h-4.6M51 63.75h2.6M341.2 63.75h-2.6M51 57.54h2.6M341.2 57.54h-2.6M51 51.32h2.6M341.2 51.32h-2.6M51 45.1h2.6M341.2 45.1h-2.6M51 38.89h4.6M341.2 38.89h-4.6M51 32.67h2.6M341.2 32.67h-2.6M51 26.45h2.6M341.2 26.45h-2.6M51 20.23h2.6M341.2 20.23h-2.6M51 14.02h2.6M341.2 14.02h-2.6" stroke="#3a3a3a" stroke-width="1.0" fill="none"/>
<path d="M51 453.35h2.6M341.2 453.35h-2.6M51 446.09h2.6M341.2 446.09h-2.6M51 438.84h2.6M341.2 438.84h-2.6M51 431.59h2.6M341.2 431.59h-2.6M51 424.33h4.6M341.2 424.33h-4.6M51 417.08h2.6M341.2 417.08h-2.6M51 409.83h2.6M341.2 409.83h-2.6M51 402.57h2.6M341.2 402.57h-2.6M51 395.32h2.6M341.2 395.32h-2.6M51 388.07h4.6M341.2 388.07h-4.6M51 380.81h2.6M341.2 380.81h-2.6M51 373.56h2.6M341.2 373.56h-2.6M51 366.31h2.6M341.2 366.31h-2.6M51 359.05h2.6M341.2 359.05h-2.6M51 351.8h4.6M341.2 351.8h-4.6M51 344.55h2.6M341.2 344.55h-2.6M51 337.29h2.6M341.2 337.29h-2.6M51 330.04h2.6M341.2 330.04h-2.6M51 322.79h2.6M341.2 322.79h-2.6M51 315.53h4.6M341.2 315.53h-4.6M51 308.28h2.6M341.2 308.28h-2.6M51 301.03h2.6M341.2 301.03h-2.6M51 293.77h2.6M341.2 293.77h-2.6M51 286.52h2.6M341.2 286.52h-2.6M51 279.27h4.6M341.2 279.27h-4.6M51 272.01h2.6M341.2 272.01h-2.6M51 264.76h2.6M341.2 264.76h-2.6M51 257.51h2.6M341.2 257.51h-2.6M51 250.25h2.6M341.2 250.25h-2.6" stroke="#3a3a3a" stroke-width="1.0" fill="none"/>
<path d="M377.2 218.15h2.6M595 218.15h-2.6M377.2 210.89h2.6M595 210.89h-2.6M377.2 203.64h2.6M595 203.64h-2.6M377.2 196.39h2.6M595 196.39h-2.6M377.2 189.13h4.6M595 189.13h-4.6M377.2 181.88h2.6M595 181.88h-2.6M377.2 174.63h2.6M595 174.63h-2.6M377.2 167.37h2.6M595 167.37h-2.6M377.2 160.12h2.6M595 160.12h-2.6M377.2 152.87h4.6M595 152.87h-4.6M377.2 145.61h2.6M595 145.61h-2.6M377.2 138.36h2.6M595 138.36h-2.6M377.2 131.11h2.6M595 131.11h-2.6M377.2 123.85h2.6M595 123.85h-2.6M377.2 116.6h4.6M595 116.6h-4.6M377.2 109.35h2.6M595 109.35h-2.6M377.2 102.09h2.6M595 102.09h-2.6M377.2 94.84h2.6M595 94.84h-2.6M377.2 87.59h2.6M595 87.59h-2.6M377.2 80.33h4.6M595 80.33h-4.6M377.2 73.08h2.6M595 73.08h-2.6M377.2 65.83h2.6M595 65.83h-2.6M377.2 58.57h2.6M595 58.57h-2.6M377.2 51.32h2.6M595 51.32h-2.6M377.2 44.07h4.6M595 44.07h-4.6M377.2 36.81h2.6M595 36.81h-2.6M377.2 29.56h2.6M595 29.56h-2.6M377.2 22.31h2.6M595 22.31h-2.6M377.2 15.05h2.6M595 15.05h-2.6" stroke="#3a3a3a" stroke-width="1.0" fill="none"/>
<path d="M377.2 453.35h2.6M595 453.35h-2.6M377.2 446.09h2.6M595 446.09h-2.6M377.2 438.84h2.6M595 438.84h-2.6M377.2 431.59h2.6M595 431.59h-2.6M377.2 424.33h4.6M595 424.33h-4.6M377.2 417.08h2.6M595 417.08h-2.6M377.2 409.83h2.6M595 409.83h-2.6M377.2 402.57h2.6M595 402.57h-2.6M377.2 395.32h2.6M595 395.32h-2.6M377.2 388.07h4.6M595 388.07h-4.6M377.2 380.81h2.6M595 380.81h-2.6M377.2 373.56h2.6M595 373.56h-2.6M377.2 366.31h2.6M595 366.31h-2.6M377.2 359.05h2.6M595 359.05h-2.6M377.2 351.8h4.6M595 351.8h-4.6M377.2 344.55h2.6M595 344.55h-2.6M377.2 337.29h2.6M595 337.29h-2.6M377.2 330.04h2.6M595 330.04h-2.6M377.2 322.79h2.6M595 322.79h-2.6M377.2 315.53h4.6M595 315.53h-4.6M377.2 308.28h2.6M595 308.28h-2.6M377.2 301.03h2.6M595 301.03h-2.6M377.2 293.77h2.6M595 293.77h-2.6M377.2 286.52h2.6M595 286.52h-2.6M377.2 279.27h4.6M595 279.27h-4.6M377.2 272.01h2.6M595 272.01h-2.6M377.2 264.76h2.6M595 264.76h-2.6M377.2 257.51h2.6M595 257.51h-2.6M377.2 250.25h2.6M595 250.25h-2.6" stroke="#3a3a3a" stroke-width="1.0" fill="none"/>
<text transform="translate(45.2,228.9) scale(1,1.08)" text-anchor="end" class="tl">0</text>
<text transform="translate(45.2,198.91) scale(1,1.08)" text-anchor="end" class="tl">0.2</text>
<text transform="translate(45.2,167.83) scale(1,1.08)" text-anchor="end" class="tl">0.4</text>
<text transform="translate(45.2,136.74) scale(1,1.08)" text-anchor="end" class="tl">0.6</text>
<text transform="translate(45.2,105.66) scale(1,1.08)" text-anchor="end" class="tl">0.8</text>
<text transform="translate(45.2,74.57) scale(1,1.08)" text-anchor="end" class="tl">1.0</text>
<text transform="translate(45.2,43.49) scale(1,1.08)" text-anchor="end" class="tl">1.2</text>
<text transform="translate(45.2,13.6) scale(1,1.08)" text-anchor="end" class="tl">1.4</text>
<text transform="translate(45.2,464.1) scale(1,1.08)" text-anchor="end" class="tl">0</text>
<text transform="translate(45.2,428.93) scale(1,1.08)" text-anchor="end" class="tl">0.2</text>
<text transform="translate(45.2,392.67) scale(1,1.08)" text-anchor="end" class="tl">0.4</text>
<text transform="translate(45.2,356.4) scale(1,1.08)" text-anchor="end" class="tl">0.6</text>
<text transform="translate(45.2,320.13) scale(1,1.08)" text-anchor="end" class="tl">0.8</text>
<text transform="translate(45.2,283.87) scale(1,1.08)" text-anchor="end" class="tl">1.0</text>
<text transform="translate(45.2,247.6) scale(1,1.08)" text-anchor="end" class="tl">1.2</text>
<text transform="translate(371.4,228.9) scale(1,1.08)" text-anchor="end" class="tl">0</text>
<text transform="translate(371.4,193.73) scale(1,1.08)" text-anchor="end" class="tl">1.0</text>
<text transform="translate(371.4,157.47) scale(1,1.08)" text-anchor="end" class="tl">2.0</text>
<text transform="translate(371.4,121.2) scale(1,1.08)" text-anchor="end" class="tl">3.0</text>
<text transform="translate(371.4,84.93) scale(1,1.08)" text-anchor="end" class="tl">4.0</text>
<text transform="translate(371.4,48.67) scale(1,1.08)" text-anchor="end" class="tl">5.0</text>
<text transform="translate(371.4,12.4) scale(1,1.08)" text-anchor="end" class="tl">6.0</text>
<text transform="translate(371.4,464.1) scale(1,1.08)" text-anchor="end" class="tl">0</text>
<text transform="translate(371.4,428.93) scale(1,1.08)" text-anchor="end" class="tl">0.2</text>
<text transform="translate(371.4,392.67) scale(1,1.08)" text-anchor="end" class="tl">0.4</text>
<text transform="translate(371.4,356.4) scale(1,1.08)" text-anchor="end" class="tl">0.6</text>
<text transform="translate(371.4,320.13) scale(1,1.08)" text-anchor="end" class="tl">0.8</text>
<text transform="translate(371.4,283.87) scale(1,1.08)" text-anchor="end" class="tl">1.0</text>
<text transform="translate(371.4,247.6) scale(1,1.08)" text-anchor="end" class="tl">1.2</text>
<text transform="translate(51,474.2) scale(1,1.05)" text-anchor="middle" class="tl">4</text>
<text transform="translate(99.37,474.2) scale(1,1.05)" text-anchor="middle" class="tl">3</text>
<text transform="translate(147.73,474.2) scale(1,1.05)" text-anchor="middle" class="tl">2</text>
<text transform="translate(196.1,474.2) scale(1,1.05)" text-anchor="middle" class="tl">1</text>
<text transform="translate(244.47,474.2) scale(1,1.05)" text-anchor="middle" class="tl">0</text>
<text transform="translate(292.83,474.2) scale(1,1.05)" text-anchor="middle" class="tl">–1</text>
<text transform="translate(341.2,474.2) scale(1,1.05)" text-anchor="middle" class="tl">–2</text>
<text transform="translate(377.2,474.2) scale(1,1.05)" text-anchor="middle" class="tl">–1</text>
<text transform="translate(431.65,474.2) scale(1,1.05)" text-anchor="middle" class="tl">–0.5</text>
<text transform="translate(486.1,474.2) scale(1,1.05)" text-anchor="middle" class="tl">0</text>
<text transform="translate(540.55,474.2) scale(1,1.05)" text-anchor="middle" class="tl">0.5</text>
<text transform="translate(595,474.2) scale(1,1.05)" text-anchor="middle" class="tl">1</text>
<text x="67.2" y="33.0" class="pl">(a)</text>
<text x="67.2" y="267.8" class="pl">(b)</text>
<text x="389.0" y="33.0" class="pl">(c)</text>
<text x="389.0" y="267.8" class="pl">(d)</text>
<path d="M240 24.8h18.2" stroke="#333" stroke-width="1"/>
<path d="M240 40.2h18.2" stroke="#000" stroke-width="2"/>
<text y="28.1" class="lg"><tspan x="265.7">CO</tspan><tspan x="288" font-style="italic">J</tspan><tspan x="296.5" font-size="13.4">=</tspan><tspan x="307.2">1–0</tspan></text>
<text y="43.5" class="lg"><tspan x="265.7">CO</tspan><tspan x="288" font-style="italic">J</tspan><tspan x="296.5" font-size="13.4">=</tspan><tspan x="307.2">3–2</tspan></text>
<path d="M498.3 24.8h18.2" stroke="#333" stroke-width="1"/>
<path d="M498.3 40.2h18.2" stroke="#000" stroke-width="2"/>
<text y="28.1" class="lg"><tspan x="523.9">CO</tspan><tspan x="546.2" font-style="italic">J</tspan><tspan x="554.7" font-size="13.4">=</tspan><tspan x="565.4">1–0</tspan></text>
<text y="43.5" class="lg"><tspan x="523.9">CO</tspan><tspan x="546.2" font-style="italic">J</tspan><tspan x="554.7" font-size="13.4">=</tspan><tspan x="565.4">3–2</tspan></text>
<text x="194.5" y="499.4" text-anchor="middle" class="at">Galactic Longitude [degrees]</text>
<text x="484.2" y="499.4" text-anchor="middle" class="at">Galactic Latitude [degrees]</text>
<text transform="translate(12.9,118.2) rotate(-90)" text-anchor="middle" class="at"><tspan font-style="italic">W</tspan><tspan font-size="9.7" dy="2.8">CO</tspan><tspan dy="-2.8"> [10</tspan><tspan font-size="10.3" dy="-3.6">5</tspan><tspan dy="3.6"> K km s</tspan><tspan font-size="10.3" dy="-3.6">−1</tspan><tspan dy="3.6">]</tspan></text>
<text transform="translate(13.3,357.2) rotate(-90)" text-anchor="middle" class="at"><tspan font-style="italic">R</tspan><tspan font-size="10" dy="3.2">3–2/1–0</tspan></text>
</svg>
</body></html>
